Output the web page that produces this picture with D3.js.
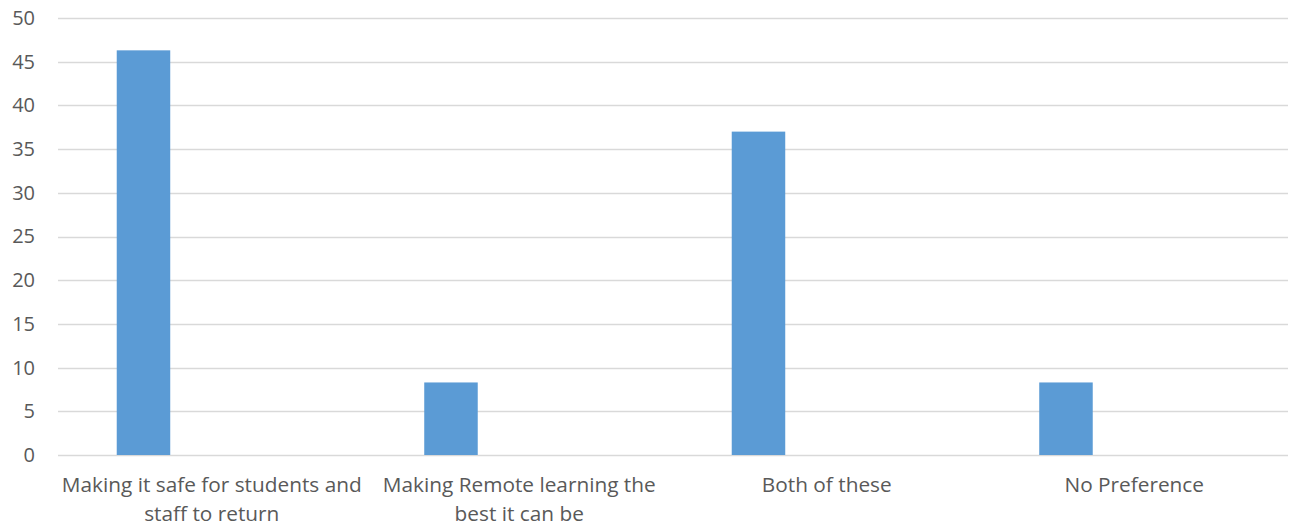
<!DOCTYPE html>
<html>
<head>
<meta charset="utf-8">
<script src="https://cdn.jsdelivr.net/npm/d3@7"></script>
<style>
  html, body { margin: 0; padding: 0; background: #fff; }
  svg { display: block; }
</style>
</head>
<body>
<svg id="chart" width="1292" height="527"></svg>
<script>
const categories = [
  "Making it safe for students and staff to return",
  "Making Remote learning the best it can be",
  "Both of these",
  "No Preference"
];
const categoryLines = [
  ["Making it safe for students and", "staff to return"],
  ["Making Remote learning the", "best it can be"],
  ["Both of these"],
  ["No Preference"]
];
const values = [46.3, 8.3, 37.0, 8.3];
const yTicks = [0, 5, 10, 15, 20, 25, 30, 35, 40, 45, 50];

const W = 1292, H = 527;
const margin = { left: 58, right: 4, top: 18, bottom: 72 };
const svg = d3.select("#chart");
const font = "'Open Sans', 'Noto Sans', sans-serif";
const textColor = "#595959";

const x = d3.scaleBand().domain(categories).range([margin.left, W - margin.right]).padding(0);
const y = d3.scaleLinear().domain([0, 50]).range([H - margin.bottom, margin.top]);

// gridlines
svg.append("g").selectAll("line").data(yTicks).join("line")
  .attr("x1", margin.left).attr("x2", W - margin.right)
  .attr("y1", d => Math.round(y(d)) + 0.5).attr("y2", d => Math.round(y(d)) + 0.5)
  .attr("stroke", "#D9D9D9").attr("stroke-width", 1.3);

// y axis labels
const yAxis = d3.axisLeft(y).tickValues(yTicks).tickSize(0).tickPadding(0);
const ya = svg.append("g").attr("transform", `translate(${35},0)`).call(yAxis);
ya.select(".domain").remove();
ya.selectAll("text").attr("font-family", font).attr("font-size", 20).attr("fill", textColor);

// bars (offset within each category band)
const bw = x.bandwidth();
const barOffset = bw * 0.191, barWidth = bw * 0.174;
svg.append("g").selectAll("rect").data(values).join("rect")
  .attr("x", (d, i) => x(categories[i]) + barOffset)
  .attr("width", barWidth)
  .attr("y", d => y(d))
  .attr("height", d => y(0) - y(d))
  .attr("fill", "#5B9BD5");

// x labels
const xl = svg.append("g");
categories.forEach((c, i) => {
  const t = xl.append("text")
    .attr("x", x(c) + bw / 2)
    .attr("y", 492)
    .attr("text-anchor", "middle")
    .attr("font-family", font).attr("font-size", 20.8).attr("fill", textColor);
  categoryLines[i].forEach((ln, j) => {
    t.append("tspan").attr("x", x(c) + bw / 2).attr("dy", j === 0 ? 0 : 28.5).text(ln);
  });
});
</script>
</body>
</html>
